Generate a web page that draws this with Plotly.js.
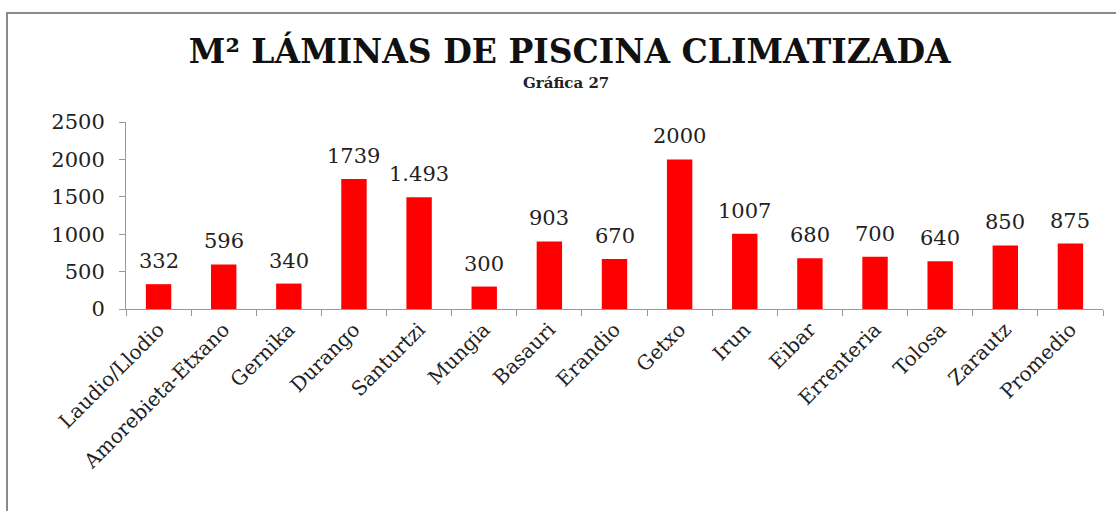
<!DOCTYPE html>
<html>
<head>
<meta charset="utf-8">
<script src="https://cdn.plot.ly/plotly-3.0.1.min.js"></script>
<style>
  html, body { margin: 0; padding: 0; background: #fff; width: 1116px; height: 511px; overflow: hidden; }
  #chart { position: absolute; left: 6px; top: 12px; width: 1110px; height: 499px;
           border-left: 2px solid #8a8a8a; border-top: 2px solid #8a8a8a; box-sizing: border-box; }
</style>
</head>
<body>
<div id="chart"></div>
<script>
const categories = ["Laudio/Llodio", "Amorebieta-Etxano", "Gernika", "Durango", "Santurtzi", "Mungia", "Basauri", "Erandio", "Getxo", "Irun", "Eibar", "Errenteria", "Tolosa", "Zarautz", "Promedio"];
const values = [332, 596, 340, 1739, 1493, 300, 903, 670, 2000, 1007, 680, 700, 640, 850, 875];
const valueLabels = ["332", "596", "340", "1739", "1.493", "300", "903", "670", "2000", "1007", "680", "700", "640", "850", "875"];
const yTicks = [0, 500, 1000, 1500, 2000, 2500];

const serif = "'DejaVu Serif', 'Liberation Serif', serif";

const trace = {
  type: 'bar',
  x: categories,
  y: values,
  marker: { color: '#ff0000' },
  hoverinfo: 'none'
};

const labelAnnotations = categories.map((c, i) => ({
  x: c, y: values[i], xref: 'x', yref: 'y',
  text: valueLabels[i],
  showarrow: false,
  xanchor: 'center', yanchor: 'bottom',
  yshift: 9,
  font: { family: serif, size: 21, color: '#222' }
}));

const layout = {
  width: 1108,
  height: 497,
  margin: { l: 118, r: 13, t: 108, b: 202 },
  paper_bgcolor: '#fff',
  plot_bgcolor: '#fff',
  bargap: 0.61,
  showlegend: false,
  title: {
    text: '<b>M² LÁMINAS DE PISCINA CLIMATIZADA</b>',
    font: { family: serif, size: 33, color: '#111' },
    x: 0.507, xref: 'container', xanchor: 'center',
    y: 0.925, yref: 'container', yanchor: 'middle'
  },
  annotations: [{
    text: '<b>Gráfica 27</b>',
    xref: 'paper', yref: 'paper',
    x: 0.45, y: 1.21, xanchor: 'center', yanchor: 'middle',
    showarrow: false,
    font: { family: serif, size: 15, color: '#222' }
  }].concat(labelAnnotations),
  xaxis: {
    type: 'category',
    showline: true, linecolor: '#999', linewidth: 1,
    ticks: 'outside', tickson: 'boundaries', ticklen: 6, tickcolor: '#999',
    tickangle: -45,
    tickfont: { family: serif, size: 20, color: '#222' },
    showgrid: false, zeroline: false
  },
  yaxis: {
    range: [0, 2500],
    tickvals: yTicks,
    showline: true, linecolor: '#999', linewidth: 1,
    ticks: 'outside', ticklen: 6, tickcolor: '#999',
    ticklabelstandoff: 10,
    tickfont: { family: serif, size: 21, color: '#222' },
    showgrid: false, zeroline: false
  }
};

Plotly.newPlot('chart', [trace], layout, { displayModeBar: false, staticPlot: true });
</script>
</body>
</html>
